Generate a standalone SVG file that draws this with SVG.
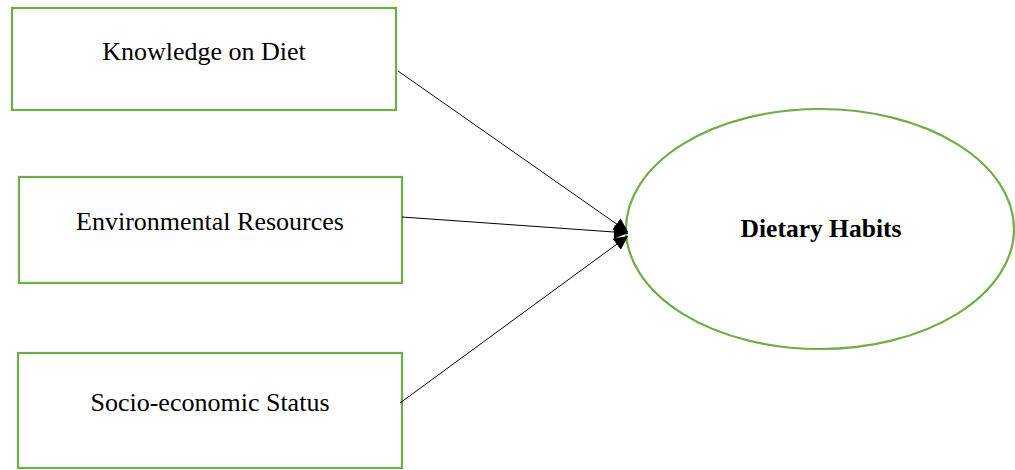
<svg xmlns="http://www.w3.org/2000/svg" width="1015" height="470" viewBox="0 0 1015 470">
<style>
.box{fill:#fff;stroke:#70AD47;stroke-width:2.2}
.lbl{font-family:"Liberation Serif","Times New Roman",serif;font-size:26px;fill:#000;text-anchor:middle;dominant-baseline:central}
.b{font-weight:bold;font-size:25.5px}
.con{stroke:#000;stroke-width:1;fill:none;marker-end:url(#ah)}
</style>
<defs>
<marker id="ah" viewBox="0 0 10 10" refX="10" refY="5" markerWidth="14" markerHeight="14" markerUnits="userSpaceOnUse" orient="auto">
<path d="M0,0 L10,5 L0,10 z" fill="#000"/>
</marker>
</defs>
<rect width="1015" height="470" fill="#fff"/>
<g id="n1"><rect class="box" x="12" y="8" width="384" height="102"/><text class="lbl" x="204" y="51">Knowledge on Diet</text></g>
<g id="n2"><rect class="box" x="19" y="177" width="383" height="106"/><text class="lbl" x="210" y="221">Environmental Resources</text></g>
<g id="n3"><rect class="box" x="18" y="353" width="384" height="115"/><text class="lbl" x="210" y="402">Socio-economic Status</text></g>
<g id="n4"><ellipse class="box" cx="820" cy="229" rx="194" ry="120"/><text class="lbl b" x="821" y="228">Dietary Habits</text></g>
<g id="connectors">
<line class="con" x1="398" y1="71" x2="628" y2="232"/>
<line class="con" x1="402" y1="217" x2="628" y2="233"/>
<line class="con" x1="400" y1="403" x2="628" y2="236"/>
</g>
</svg>
